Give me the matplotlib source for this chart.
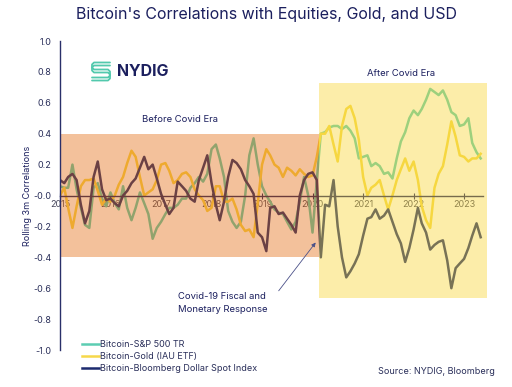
import numpy as np
import pandas as pd
import matplotlib
matplotlib.use("Agg")
import matplotlib.pyplot as plt
import matplotlib.dates as mdates
from matplotlib.patches import Rectangle
from matplotlib.lines import Line2D

plt.rcParams['font.family'] = ['Inter', 'DejaVu Sans']

# monthly rolling 3m correlations, Jan 2015 - May 2023
months = pd.date_range("2015-01-01", periods=101, freq="MS")

spx = [0.06, 0.05, 0.05, 0.20, 0.04, -0.08, -0.19, -0.21, 0.05, 0.08,
       -0.02, -0.07, 0.02, -0.05, -0.09, 0.06, -0.08, -0.16, -0.08, 0.02,
       -0.05, -0.12, -0.28, -0.21, -0.17, -0.12, -0.08, -0.08, -0.06, -0.02,
       -0.02, 0.05, 0.08, 0.12, 0.09, 0.14, 0.30, 0.33, 0.24, 0.12,
       -0.10, -0.17, -0.21, -0.17, 0.00, 0.26, 0.37, 0.20, 0.06, 0.00,
       -0.04, -0.09, -0.11, -0.12, -0.17, -0.22, -0.17, -0.04, 0.12, 0.00,
       -0.24, 0.10, 0.40, 0.41, 0.44, 0.45, 0.45, 0.43, 0.45, 0.42,
       0.37, 0.24, 0.25, 0.26, 0.19, 0.21, 0.19, 0.14, 0.15, 0.11,
       0.24, 0.35, 0.41, 0.50, 0.55, 0.52, 0.56, 0.62, 0.69, 0.67,
       0.65, 0.68, 0.62, 0.54, 0.52, 0.45, 0.46, 0.50, 0.34, 0.28,
       0.24]

gold = [0.00, 0.05, -0.08, -0.21, -0.07, 0.06, 0.10, 0.10, 0.11, 0.03,
        -0.06, -0.02, -0.04, 0.00, 0.07, 0.12, 0.21, 0.29, 0.25, 0.12,
        0.00, 0.02, 0.04, 0.10, 0.20, 0.21, 0.16, 0.08, 0.10, 0.14,
        0.15, 0.12, 0.04, 0.00, -0.03, -0.10, -0.08, 0.06, 0.06, -0.04,
        -0.04, -0.02, -0.09, -0.19, -0.23, -0.22, -0.27, -0.05, 0.20, 0.30,
        0.26, 0.20, 0.18, 0.12, 0.18, 0.16, 0.13, 0.17, 0.14, 0.12,
        0.13, 0.25, 0.40, 0.40, 0.45, 0.33, 0.22, 0.45, 0.56, 0.58,
        0.50, 0.36, 0.12, 0.00, 0.05, 0.07, 0.10, 0.00, -0.09, 0.00,
        0.10, 0.17, 0.24, 0.16, 0.22, 0.10, -0.07, -0.16, -0.21, 0.05,
        0.14, 0.19, 0.33, 0.48, 0.38, 0.26, 0.25, 0.22, 0.24, 0.24,
        0.27]

usd = [0.10, 0.08, 0.12, 0.14, 0.10, -0.06, -0.18, -0.10, 0.12, 0.22,
       0.04, -0.03, -0.02, -0.05, -0.07, 0.00, 0.03, 0.08, 0.11, 0.18,
       0.25, 0.17, 0.20, 0.11, 0.01, -0.06, -0.12, -0.08, 0.09, 0.06,
       0.03, -0.02, -0.04, 0.10, 0.18, 0.26, 0.08, -0.06, -0.16, -0.04,
       0.12, 0.23, 0.21, 0.17, 0.10, 0.06, 0.01, -0.24, -0.27, -0.36,
       -0.08, -0.07, -0.12, -0.11, -0.15, -0.19, -0.24, 0.00, 0.10, 0.14,
       0.15, 0.10, -0.40, -0.06, -0.07, 0.10, -0.20, -0.40, -0.53, -0.49,
       -0.44, -0.38, -0.26, -0.15, -0.14, -0.09, -0.15, -0.13, -0.09, -0.17,
       -0.25, -0.31, -0.43, -0.34, -0.22, -0.08, -0.18, -0.24, -0.35, -0.32,
       -0.30, -0.29, -0.42, -0.60, -0.47, -0.44, -0.41, -0.34, -0.26, -0.18,
       -0.27]

labels = ["Bitcoin-S&P 500 TR", "Bitcoin-Gold (IAU ETF)",
          "Bitcoin-Bloomberg Dollar Spot Index"]
colors = ["#5ccdb2", "#f6d84a", "#1c2a6e"]

navy = "#1b1f5e"
covid = pd.Timestamp("2020-02-18")

fig = plt.figure(figsize=(5.12, 3.87), dpi=100)
ax = fig.add_axes([60 / 512, 37 / 387, 429.25 / 512, 309 / 387])

for vals, c, lab in zip([spx, gold, usd], colors, labels):
    ax.plot(months, vals, color=c, lw=1.8, label=lab, zorder=1)

# era shading drawn over the lines
x0 = mdates.date2num(pd.Timestamp("2015-01-01"))
xc = mdates.date2num(covid)
x1 = mdates.date2num(pd.Timestamp("2023-06-18"))
ax.add_patch(Rectangle((x0, -0.4), xc - x0, 0.8, color="#e36607",
                       alpha=0.4, lw=0, zorder=3))
ax.add_patch(Rectangle((xc, -0.665), x1 - xc, 1.395, color="#f8d634",
                       alpha=0.42, lw=0, zorder=3))

ax.set_xlim(pd.Timestamp("2015-01-01"), pd.Timestamp("2023-07-02"))
ax.set_ylim(-1, 1)
ax.set_axisbelow(True)

for s in ["top", "right"]:
    ax.spines[s].set_visible(False)
ax.spines["bottom"].set_position(("data", 0))
ax.spines["bottom"].set_color(navy)
ax.spines["bottom"].set_linewidth(1)
ax.spines["bottom"].set_zorder(1.5)
ax.spines["bottom"].set_bounds(x0, mdates.date2num(pd.Timestamp("2023-05-20")))
ax.spines["left"].set_color("#2a2f6a")
ax.spines["left"].set_linewidth(1)
ax.spines["left"].set_zorder(4)

ax.xaxis.set_major_locator(mdates.YearLocator())
ax.xaxis.set_major_formatter(mdates.DateFormatter("%Y"))
ax.tick_params(axis="x", direction="inout", length=5, width=0.8, color=navy,
               labelsize=6.5, labelcolor="#4a4a5e", pad=1)
ax.set_yticks(np.arange(-1, 1.01, 0.2))
ax.set_yticklabels([f"{v:.1f}" for v in np.arange(-1, 1.01, 0.2)])
ax.tick_params(axis="y", length=0, labelsize=6.5, labelcolor="#2a2f5a", pad=6)
ax.set_ylabel("Rolling 3m Correlations", fontsize=6.5, color=navy, labelpad=1)

fig.text(267 / 512, 1 - 14 / 387,
         "Bitcoin's Correlations with Equities, Gold, and USD",
         ha="center", va="center", fontsize=11.5, color=navy)
ax.text(pd.Timestamp("2017-05-15"), 0.46, "Before Covid Era", ha="center",
        va="bottom", fontsize=6.8, color=navy, zorder=5)
ax.text(pd.Timestamp("2021-10-01"), 0.76, "After Covid Era", ha="center",
        va="bottom", fontsize=6.8, color=navy, zorder=5)

# NYDIG logo
fig.text(117 / 512, 1 - 71 / 387, "NYDIG", ha="left", va="center",
         fontsize=11.5, fontweight="bold", color=navy)
for off in (0, 3):
    xs = np.array([110, 94, 92, 92, 94, 108, 110, 110, 108, 92])
    ys = np.array([64, 64, 66, 69, 71, 71, 73, 77, 79, 79]) + off - 1.5
    fig.add_artist(Line2D(xs / 512, 1 - ys / 387, color="#52c9ad", lw=1.3,
                          transform=fig.transFigure, solid_capstyle="round"))

# annotation
ax.annotate("", xy=(pd.Timestamp("2020-02-05"), -0.29),
            xytext=(277 / 512, 1 - 293 / 387), textcoords="figure fraction",
            arrowprops=dict(arrowstyle="-|>", color="#4a5088", lw=0.6,
                            mutation_scale=6), zorder=6)
fig.text(178 / 512, 1 - 303 / 387, "Covid-19 Fiscal and\nMonetary Response",
         ha="left", va="center", fontsize=6.8, color=navy, linespacing=1.6)

fig.legend(loc="upper left", bbox_to_anchor=(82 / 512, 1 - 340 / 387),
           frameon=False, fontsize=6.5, handlelength=1.9, handletextpad=0.1,
           labelspacing=0.35, borderpad=0, borderaxespad=0,
           labelcolor="#2a2f5a")
fig.text(495 / 512, 1 - 371 / 387, "Source: NYDIG, Bloomberg", ha="right",
         va="center", fontsize=6.5, color="#2a2f5a")

fig.savefig("out.png", dpi=100)
